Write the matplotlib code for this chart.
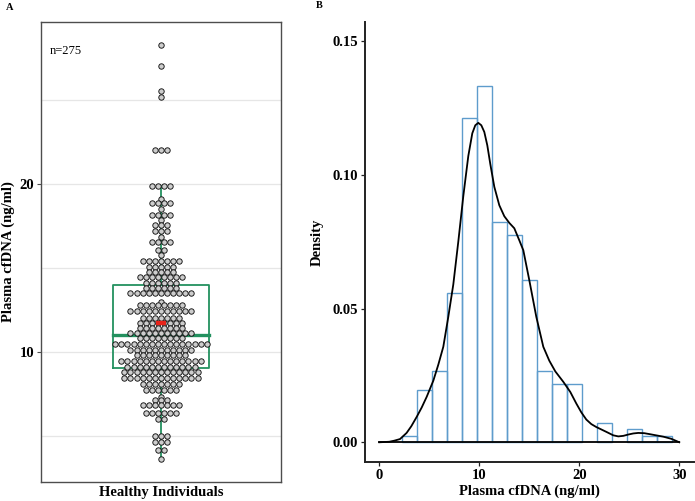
import numpy as np
import matplotlib
matplotlib.use("Agg")
import matplotlib.pyplot as plt

# ---------------- data ----------------
# Panel A: dot rows (value in ng/ml, number of dots in row)
row_values = [28.3, 27.0, 25.55, 25.2, 22.04, 19.9, 19.09, 18.85, 18.5, 18.15,
              17.86, 17.56, 17.2, 16.86, 16.57, 16.07, 15.77, 15.42, 15.08, 14.78,
              14.45, 14.13, 13.82, 13.5, 13.0, 12.8, 12.44, 12.0, 11.71, 11.41,
              11.11, 10.82, 10.46, 10.12, 9.82, 9.46, 9.13, 8.83, 8.47, 8.08,
              7.74, 7.34, 7.14, 6.83, 6.35, 5.99, 5.02, 4.66, 4.17, 3.61]
row_counts = [1, 1, 1, 1, 3, 4, 1, 4, 1, 4,
              1, 3, 3, 1, 4, 2, 1, 7, 5, 5,
              8, 6, 6, 11, 1, 8, 11, 7, 8, 8,
              11, 8, 16, 11, 9, 14, 12, 13, 13, 7,
              6, 1, 3, 7, 6, 2, 3, 3, 2, 1]
category = "Healthy Individuals"
n_label = "n=275"
box_q1, box_median, box_q3 = 9.07, 11.0, 14.0
whisker_low, whisker_high = 3.61, 19.9
mean_value = 11.7

# Panel B: histogram (bin width 1.5) and density curve
bin_start = 2.24
bin_width = 1.5
hist_counts = [1, 8, 11, 23, 50, 55, 34, 32, 25, 11, 9, 9, 0, 3, 0, 2, 1, 1]
n_total = 275
dens_x = [0, 1.0, 1.5, 2.07, 2.73, 3.2, 3.74, 4.24, 4.74, 5.4, 5.9, 6.4, 6.9, 7.4,
          7.9, 8.4, 8.9, 9.3, 9.6, 9.9, 10.2, 10.5, 10.8, 11.1, 11.5, 12.0, 12.5,
          13.0, 13.5, 14.0, 14.4, 15.0, 15.7, 16.4, 17.0, 17.6, 18.4, 19.1, 19.7,
          20.2, 20.7, 21.2, 21.7, 22.7, 23.4, 23.9, 24.4, 24.9, 25.4, 25.9, 26.5,
          27.1, 28.4, 29.2, 30.0]
dens_y = [0.0, 0.0002, 0.0006, 0.0012, 0.0035, 0.006, 0.0095, 0.013, 0.017, 0.023,
          0.029, 0.0357, 0.0469, 0.059, 0.075, 0.092, 0.107, 0.1155, 0.1185, 0.1194,
          0.1185, 0.116, 0.111, 0.104, 0.0955, 0.0886, 0.0845, 0.082, 0.080, 0.0755,
          0.0718, 0.0606, 0.0469, 0.0357, 0.0305, 0.0265, 0.0226, 0.0188, 0.0145,
          0.0112, 0.0085, 0.0068, 0.0057, 0.0039, 0.0026, 0.0022, 0.0024, 0.0029,
          0.0033, 0.0035, 0.0034, 0.003, 0.0021, 0.0013, 0.0]

# ---------------- style ----------------
W, H = 695, 501
DPI = 100
serif = ["Liberation Serif", "DejaVu Serif"]
plt.rcParams["font.family"] = serif
green = "#23915f"
frame_col = "#4d4d4d"
grid_col = "#e6e6e6"
hist_col = "#5e9ccc"

fig = plt.figure(figsize=(W / DPI, H / DPI), dpi=DPI)

# ---------------- Panel A ----------------
axA_l, axA_r, axA_t, axA_b = 41, 281, 22, 482
axA = fig.add_axes([axA_l / W, (H - axA_b) / H, (axA_r - axA_l) / W, (axA_b - axA_t) / H])
xlimA = (0.4, 1.6)
axA.set_xlim(*xlimA)
axA.set_ylim(2.26, 29.64)
for y in [5, 10, 15, 20, 25]:
    axA.axhline(y, color=grid_col, lw=0.9, zorder=0)
for s in axA.spines.values():
    s.set_color(frame_col)
    s.set_linewidth(1.0)

# boxplot
bw = 0.485 / 2
axA.plot([1 - bw, 1 + bw, 1 + bw, 1 - bw, 1 - bw],
         [box_q1, box_q1, box_q3, box_q3, box_q1], color=green, lw=1.3, zorder=2)
axA.plot([1 - bw, 1 + bw], [box_median, box_median], color=green, lw=2.4, zorder=2)
axA.plot([1, 1], [box_q3, whisker_high], color=green, lw=1.3, zorder=2)
axA.plot([1, 1], [whisker_low, box_q1], color=green, lw=1.3, zorder=2)

# dots, stacked around centre
dot_px = 6.1
dx = dot_px * (xlimA[1] - xlimA[0]) / (axA_r - axA_l)
xs, ys = [], []
for v, c in zip(row_values, row_counts):
    for i in range(c):
        xs.append(1 + (i - (c - 1) / 2) * dx)
        ys.append(v)
size_pt = dot_px * 72 / DPI
axA.scatter(xs, ys, s=(size_pt - 0.5) ** 2, facecolor="#cdcdcd", edgecolor="#111111",
            linewidth=0.65, zorder=3)
axA.plot([1], [mean_value], marker="_", color="#e8231a", markersize=7.5,
         markeredgewidth=3.2, zorder=4)

axA.set_xticks([1])
axA.set_xticklabels([category], fontsize=10.5, fontweight="bold")
axA.tick_params(axis="x", length=0, pad=3)
axA.set_yticks([10, 20])
axA.set_yticklabels(["10", "20"], fontsize=10.5, fontweight="bold")
axA.tick_params(axis="y", length=3, width=0.8, color=frame_col, pad=2)
axA.set_ylabel("Plasma cfDNA (ng/ml)", fontsize=10.5, fontweight="bold", labelpad=3)
axA.text(50 / W, (H - 51) / H, n_label, transform=fig.transFigure, fontsize=9,
         va="center", ha="left")
fig.text(10 / W, (H - 7) / H, "A", fontsize=7.5, fontweight="bold", va="center", ha="center")

# ---------------- Panel B ----------------
axB_l, axB_r, axB_t, axB_b = 365, 694, 22, 462
axB = fig.add_axes([axB_l / W, (H - axB_b) / H, (axB_r - axB_l) / W, (axB_b - axB_t) / H])
axB.set_xlim(-1.43, 31.47)
axB.set_ylim(-0.00737, 0.1571)
edges = bin_start + bin_width * np.arange(len(hist_counts) + 1)
dens = np.array(hist_counts) / (n_total * bin_width)
for left, d in zip(edges[:-1], dens):
    if d > 0:
        axB.bar(left, d, width=bin_width, align="edge", facecolor="none",
                edgecolor=hist_col, linewidth=1.0, zorder=2)
axB.plot(dens_x, dens_y, color="black", lw=1.3, zorder=3, solid_joinstyle="round")
axB.plot([dens_x[0], dens_x[-1]], [0, 0], color="black", lw=1.3, zorder=3)

for side in ["top", "right"]:
    axB.spines[side].set_visible(False)
for side in ["left", "bottom"]:
    axB.spines[side].set_color("#222222")
    axB.spines[side].set_linewidth(1.4)
axB.set_xticks([0, 10, 20, 30])
axB.set_xticklabels(["0", "10", "20", "30"], fontsize=10.5, fontweight="bold")
axB.set_yticks([0, 0.05, 0.10, 0.15])
axB.set_yticklabels(["0.00", "0.05", "0.10", "0.15"], fontsize=10.5, fontweight="bold")
axB.tick_params(length=3, width=0.9, color="#222222", pad=2)
axB.set_xlabel("Plasma cfDNA (ng/ml)", fontsize=10.5, fontweight="bold", labelpad=2)
axB.set_ylabel("Density", fontsize=10.5, fontweight="bold", labelpad=6)
fig.text(319 / W, (H - 6) / H, "B", fontsize=7.5, fontweight="bold", va="center", ha="center")

fig.savefig("out.png", dpi=DPI)
